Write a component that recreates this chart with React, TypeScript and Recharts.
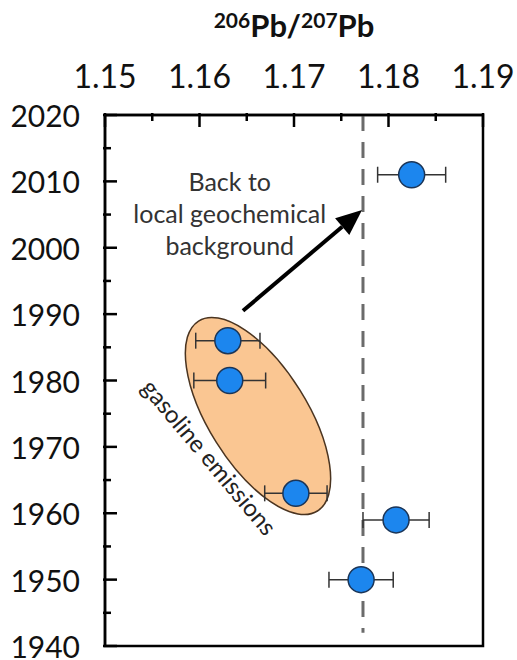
import React from 'react';
import {
  ScatterChart, Scatter, XAxis, YAxis, ErrorBar, ReferenceLine, ReferenceArea, ReferenceDot,
} from 'recharts';

// ---- data ----
const YEARS = [2011, 1986, 1980, 1963, 1959, 1950];
const RATIOS = [1.18245, 1.1630, 1.1632, 1.1702, 1.1808, 1.1771];
const RATIO_ERR = [0.0036, 0.0034, 0.0038, 0.0033, 0.0035, 0.0034];

const X_TICKS = [1.15, 1.155, 1.16, 1.165, 1.17, 1.175, 1.18, 1.185, 1.19];
const Y_TICKS = [1940, 1945, 1950, 1955, 1960, 1965, 1970, 1975, 1980, 1985, 1990, 1995, 2000, 2005, 2010, 2015, 2020];
const X_DOMAIN = [1.15, 1.19];
const Y_DOMAIN = [1940, 2020];

const BACKGROUND_RATIO = 1.1773;
const BACKGROUND_YEARS = [2020, 1942];

// arrow: tail -> head (data units)
const ARROW_X = [1.1646, 1.1772];
const ARROW_Y = [1990.5, 2005.7];

// ellipse major axis endpoints (data units) and minor/major ratio
const ELLIPSE_X = [1.1599, 1.17248];
const ELLIPSE_Y = [1988.96, 1960.34];
const ELLIPSE_RATIO = 0.44;

const NOTE_BACK = { x: 1.1632, y: 2005.3, lines: ['Back to', 'local geochemical', 'background'] };
const NOTE_GAS = { x: 1.1611, y: 1968.5, text: 'gasoline emissions' };

const data = YEARS.map((y, i) => ({ x: RATIOS[i], y, err: RATIO_ERR[i] }));

const FONT = 'Lato, "Open Sans", sans-serif';

const isMajor = (v: number, step: number) => Math.abs(Math.round(v / step) * step - v) < 1e-7;

const TopTick = (props: any) => {
  const { x, y, payload } = props;
  const v = payload.value as number;
  const major = isMajor(v, 0.01);
  return (
    <g>
      <line x1={x} x2={x} y1={y} y2={y + (major ? 14 : 8)} stroke="#000" strokeWidth={2.5} />
      {major && (
        <text x={x} y={y - 38} textAnchor="middle" dominantBaseline="central" fontFamily={FONT} fontSize={32} fill="#111">
          {v.toFixed(2)}
        </text>
      )}
    </g>
  );
};

const LeftTick = (props: any) => {
  const { x, y, payload } = props;
  const v = payload.value as number;
  const major = v % 10 === 0;
  return (
    <g>
      <line x1={x} x2={x + (major ? 14 : 8)} y1={y} y2={y} stroke="#000" strokeWidth={2.5} />
      {major && (
        <text x={x - 23} y={y} textAnchor="end" dominantBaseline="central" fontFamily={FONT} fontSize={30} fill="#111">
          {v}
        </text>
      )}
    </g>
  );
};

const Title = (props: any) => {
  const vb = props.viewBox || {};
  const cx = vb.x + vb.width / 2;
  return (
    <text x={cx} y={37} textAnchor="middle" fontFamily={FONT} fontWeight="bold" fontSize={31} fill="#111">
      <tspan fontSize={21} dy={-9}>206</tspan>
      <tspan dy={9}>Pb/</tspan>
      <tspan fontSize={21} dy={-9}>207</tspan>
      <tspan dy={9}>Pb</tspan>
    </text>
  );
};

const Dot = (props: any) => {
  const { cx, cy } = props;
  return <circle cx={cx} cy={cy} r={13} fill="#1C86EE" stroke="#1B3557" strokeWidth={1.5} />;
};

const EllipseShape = (props: any) => {
  const { x1, y1, x2, y2 } = props;
  const cx = (x1 + x2) / 2;
  const cy = (y1 + y2) / 2;
  const rx = Math.hypot(x2 - x1, y2 - y1) / 2;
  const ry = rx * ELLIPSE_RATIO;
  const ang = (Math.atan2(y2 - y1, x2 - x1) * 180) / Math.PI;
  return (
    <ellipse cx={cx} cy={cy} rx={rx} ry={ry} transform={`rotate(${ang} ${cx} ${cy})`}
      fill="#FAC692" stroke="#4a3420" strokeWidth={1.5} />
  );
};

const ArrowShape = (props: any) => {
  const { x1, y1, x2, y2 } = props;
  const ang = Math.atan2(y2 - y1, x2 - x1);
  const L = 26;
  const W = 11;
  const bx = x2 - L * Math.cos(ang);
  const by = y2 - L * Math.sin(ang);
  const px = -Math.sin(ang);
  const py = Math.cos(ang);
  return (
    <g>
      <line x1={x1} y1={y1} x2={bx} y2={by} stroke="#000" strokeWidth={4} />
      <polygon points={`${x2},${y2} ${bx + W * px},${by + W * py} ${bx - W * px},${by - W * py}`} fill="#000" />
    </g>
  );
};

const BackNote = (props: any) => {
  const { cx, cy } = props;
  return (
    <text x={cx} y={cy} textAnchor="middle" fontFamily={FONT} fontSize={25} fill="#333">
      {NOTE_BACK.lines.map((l, i) => (
        <tspan key={i} x={cx} y={cy + (i - 1) * 32} dominantBaseline="central">{l}</tspan>
      ))}
    </text>
  );
};

const GasNote = (props: any) => {
  const { cx, cy } = props;
  return (
    <text x={cx} y={cy} textAnchor="middle" dominantBaseline="central" fontFamily={FONT} fontSize={24} fill="#222"
      transform={`rotate(50 ${cx} ${cy})`}>
      {NOTE_GAS.text}
    </text>
  );
};

export default function App() {
  return (
    <div style={{ position: 'absolute', left: 0, top: 0, background: '#fff' }}>
      <ScatterChart width={517} height={660} margin={{ top: 0, right: 34, bottom: 14, left: 0 }}>
        <XAxis
          xAxisId={0}
          type="number"
          dataKey="x"
          orientation="top"
          domain={X_DOMAIN}
          ticks={X_TICKS}
          interval={0}
          height={115}
          tickSize={0}
          tickLine={false}
          axisLine={{ stroke: '#000', strokeWidth: 2.5 }}
          tick={<TopTick />}
          label={<Title />}
          allowDataOverflow
        />
        <YAxis
          yAxisId={0}
          type="number"
          dataKey="y"
          domain={Y_DOMAIN}
          ticks={Y_TICKS}
          interval={0}
          width={105}
          tickSize={0}
          tickLine={false}
          axisLine={{ stroke: '#000', strokeWidth: 2.5 }}
          tick={<LeftTick />}
          allowDataOverflow
        />
        <ReferenceArea x1={X_DOMAIN[0]} x2={X_DOMAIN[1]} y1={Y_DOMAIN[0]} y2={Y_DOMAIN[1]}
          fill="none" fillOpacity={0} stroke="#000" strokeWidth={2.5} />
        <ReferenceLine
          segment={[{ x: ELLIPSE_X[0], y: ELLIPSE_Y[0] }, { x: ELLIPSE_X[1], y: ELLIPSE_Y[1] }]}
          shape={<EllipseShape />}
        />
        <ReferenceLine
          segment={[{ x: BACKGROUND_RATIO, y: BACKGROUND_YEARS[0] }, { x: BACKGROUND_RATIO, y: BACKGROUND_YEARS[1] }]}
          stroke="#6b6b6b" strokeWidth={3} strokeDasharray="16 11"
        />
        <ReferenceLine
          segment={[{ x: ARROW_X[0], y: ARROW_Y[0] }, { x: ARROW_X[1], y: ARROW_Y[1] }]}
          shape={<ArrowShape />}
        />
        <ReferenceDot x={NOTE_BACK.x} y={NOTE_BACK.y} r={0} shape={<BackNote />} />
        <ReferenceDot x={NOTE_GAS.x} y={NOTE_GAS.y} r={0} shape={<GasNote />} />
        <Scatter data={data} shape={<Dot />} isAnimationActive={false}>
          <ErrorBar dataKey="err" direction="x" width={8} stroke="#333" strokeWidth={1.5} isAnimationActive={false} />
        </Scatter>
      </ScatterChart>
    </div>
  );
}
